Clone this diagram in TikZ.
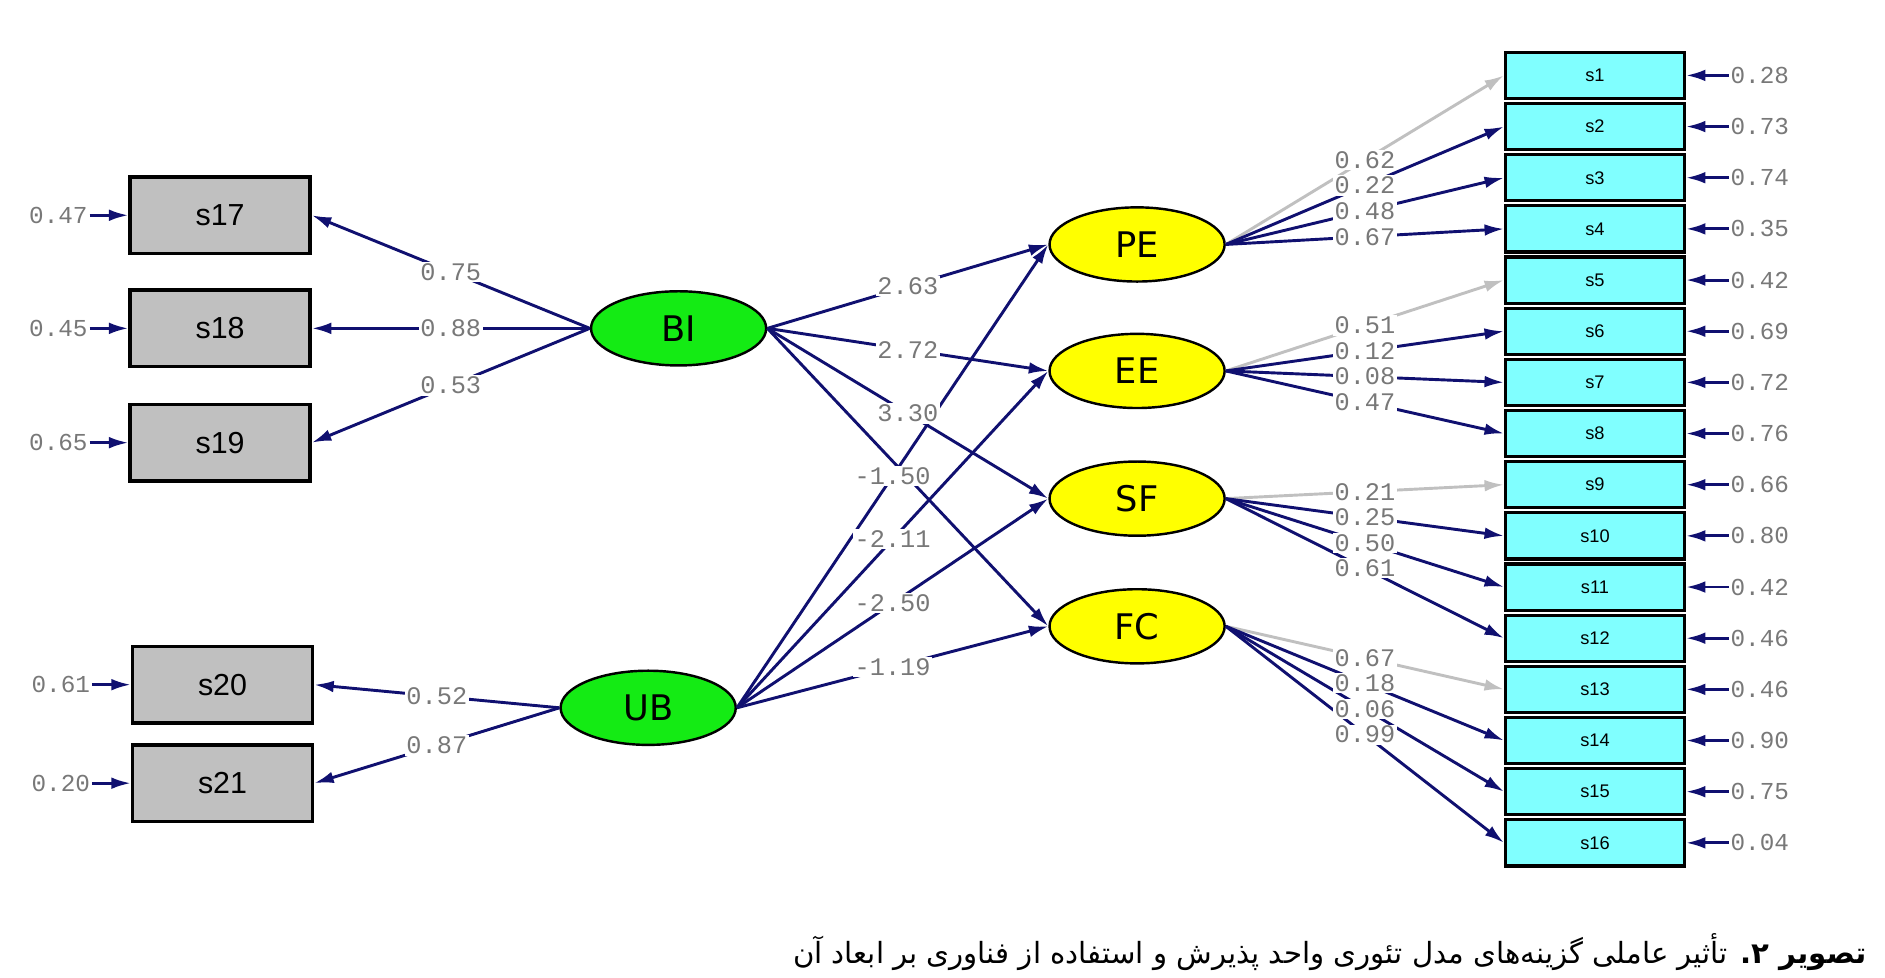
\documentclass[tikz,border=0pt]{standalone}
\usepackage{fontspec}
\TeXXeTstate=1
\newfontfamily\arabicfont[Script=Arabic]{DejaVu Sans}
\newfontfamily\lblfont{Liberation Mono}
\newfontfamily\boxfont{Liberation Sans}
\newfontfamily\latfont{DejaVu Sans}
\usetikzlibrary{shapes.geometric,arrows.meta}
\definecolor{navy}{RGB}{16,16,112}
\definecolor{lgray}{RGB}{192,192,192}
\definecolor{boxgray}{RGB}{192,192,192}
\definecolor{cyanbox}{RGB}{128,255,255}
\definecolor{latgreen}{RGB}{20,235,20}
\definecolor{latyellow}{RGB}{255,255,0}
\definecolor{lbltext}{RGB}{120,120,120}
\begin{document}
\begin{tikzpicture}[x=0.5pt,y=-0.5pt,
  obsL/.style={draw=black, line width=1.4pt, fill=boxgray, minimum width=74pt, minimum height=31.5pt, inner sep=0pt, font=\boxfont\fontsize{12.5}{14}\selectfont},
  obsR/.style={draw=black, line width=1.3pt, fill=cyanbox, minimum width=73.5pt, minimum height=19pt, inner sep=0pt, font=\boxfont\fontsize{7.5}{9}\selectfont},
  lat/.style={ellipse, draw=black, line width=1pt, minimum width=72pt, minimum height=30.5pt, inner sep=0pt, font=\latfont\fontsize{14.5}{16}\selectfont},
  exo/.style={lat, fill=latgreen},
  endo/.style={lat, fill=latyellow},
  lbl/.style={fill=white, inner sep=0.6pt, text=lbltext, font=\lblfont\fontsize{10.4}{12}\selectfont},
  errl/.style={inner sep=0.6pt, text=lbltext, font=\lblfont\fontsize{10}{12}\selectfont},
  pth/.style={draw=navy, line width=1.2pt, -{Latex[length=8pt,width=4.8pt]}}
]
\useasboundingbox (0,0) rectangle (1550,803.4);
% left observed
\node[obsL] (s17) at (181,177) {s17};
\node[obsL] (s18) at (181,270) {s18};
\node[obsL] (s19) at (181,364) {s19};
\node[obsL] (s20) at (183,563) {s20};
\node[obsL] (s21) at (183,644) {s21};
\node[errl] (e17) at (48,177) {0.47};
\node[errl] (e18) at (48,270) {0.45};
\node[errl] (e19) at (48,364) {0.65};
\node[errl] (e20) at (50,563) {0.61};
\node[errl] (e21) at (50,644) {0.20};
% latent
\node[exo] (BI) at (558,270) {BI};
\node[exo] (UB) at (533,582) {UB};
\node[endo] (PE) at (935,201) {PE};
\node[endo] (EE) at (935,305) {EE};
\node[endo] (SF) at (935,410) {SF};
\node[endo] (FC) at (935,515) {FC};
% right observed
\foreach \i/\e in {1/0.28,2/0.73,3/0.74,4/0.35,5/0.42,6/0.69,7/0.72,8/0.76,9/0.66,10/0.80,11/0.42,12/0.46,13/0.46,14/0.90,15/0.75,16/0.04}{
  \node[obsR] (s\i) at (1311.5,{62+42.07*(\i-1)}) {s\i};
  \node[errl] (r\i) at (1447,{62+42.07*(\i-1)}) {\e};
}
% error arrows
\foreach \i in {17,18,19,20,21}{ \draw[pth] (e\i) -- (s\i.west); }
\foreach \i in {1,...,16}{ \draw[pth] (r\i) -- (s\i.east); }
% left loadings
\foreach \i in {17,18,19}{ \draw[pth] (BI.west) -- coordinate[pos=.5] (m\i) (s\i.east); }
\foreach \i in {20,21}{ \draw[pth] (UB.west) -- coordinate[pos=.5] (m\i) (s\i.east); }
% structural paths
\foreach \t in {PE,EE,SF,FC}{
  \draw[pth] (BI.east) -- coordinate[pos=.5] (b\t) (\t.west);
  \draw[pth] (UB.east) -- coordinate[pos=.5] (u\t) (\t.west);
}
% right loadings
\foreach \i/\src/\c in {1/PE/lgray,2/PE/navy,3/PE/navy,4/PE/navy,5/EE/lgray,6/EE/navy,7/EE/navy,8/EE/navy,9/SF/lgray,10/SF/navy,11/SF/navy,12/SF/navy,13/FC/lgray,14/FC/navy,15/FC/navy,16/FC/navy}{
  \draw[pth, draw=\c] (\src.east) -- coordinate[pos=.5] (n\i) (s\i.west);
}
% labels
\foreach \i/\v in {17/0.75,18/0.88,19/0.53,20/0.52,21/0.87}{ \node[lbl] at (m\i) {\v}; }
\node[lbl] at (bPE) {2.63};
\node[lbl] at (bEE) {2.72};
\node[lbl] at (bSF) {3.30};
\node[lbl] at (uEE) {-2.11};
\node[lbl] at (uSF) {-2.50};
\node[lbl] at (uFC) {-1.19};
\node[lbl] at (uPE) {-1.50};
\foreach \i/\v in {1/0.62,2/0.22,3/0.48,4/0.67,5/0.51,6/0.12,7/0.08,8/0.47,9/0.21,10/0.25,11/0.50,12/0.61,13/0.67,14/0.18,15/0.06,16/0.99}{ \node[lbl] at (n\i) {\v}; }
% caption
\node[anchor=east, inner sep=0pt, font=\arabicfont\fontsize{12}{14}\selectfont] (cap) at (1535,783) {\beginR\textbf{تصویر ۲.} تأثیر عاملی گزینه‌های مدل تئوری واحد پذیرش و استفاده از فناوری بر ابعاد آن\endR};
\end{tikzpicture}
\end{document}
